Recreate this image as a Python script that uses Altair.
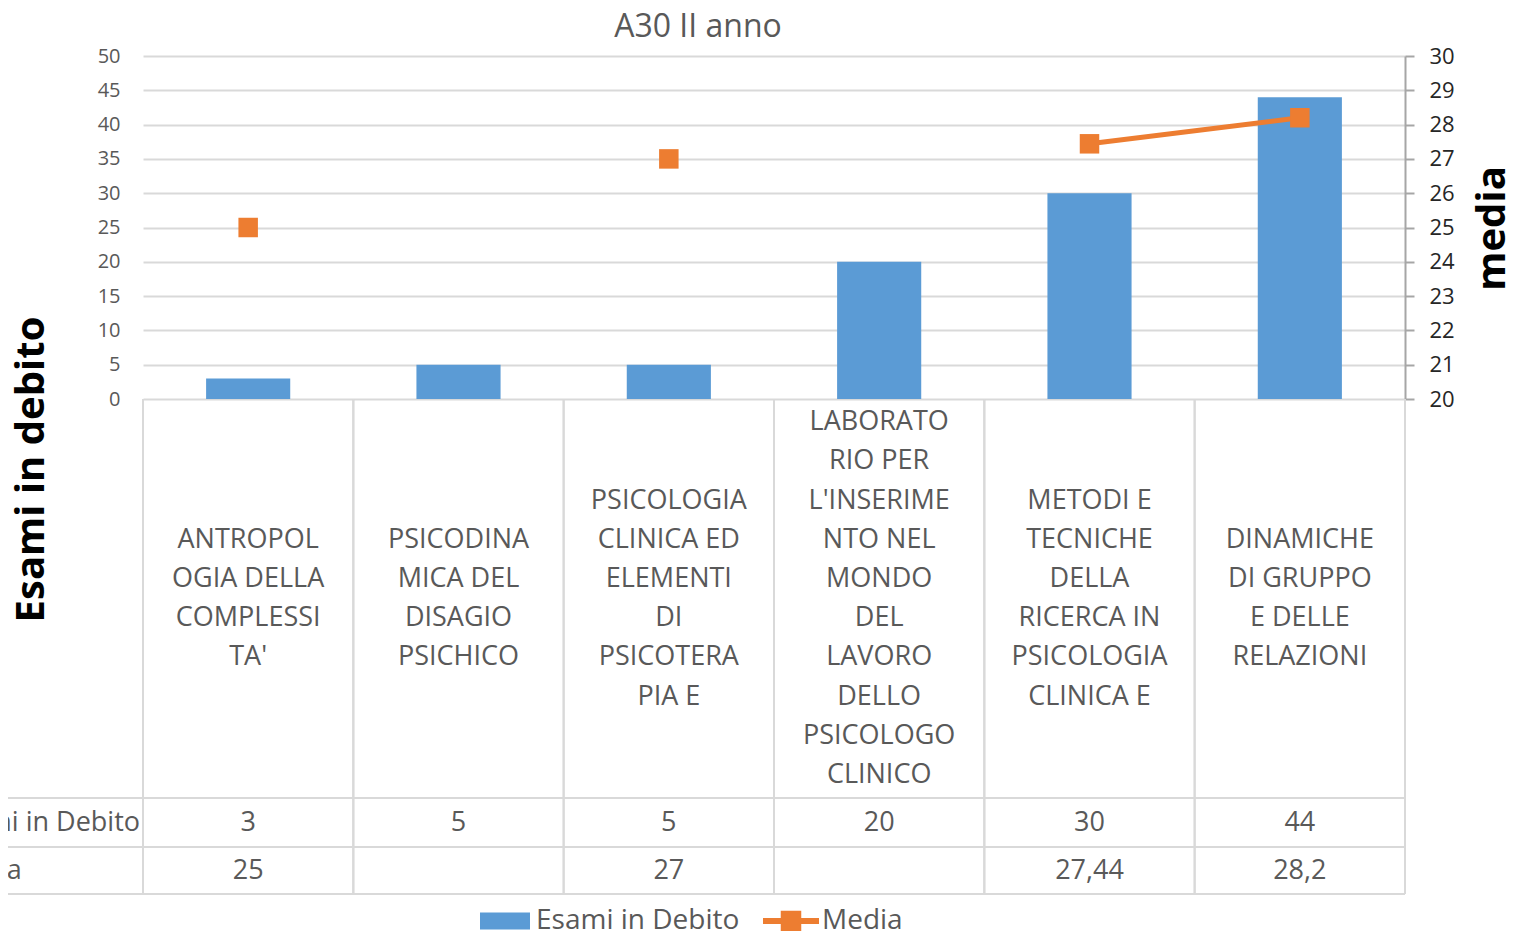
import altair as alt
import pandas as pd

# ---------------- data ----------------
categories = [
    "ANTROPOLOGIA DELLA COMPLESSITA'",
    "PSICODINAMICA DEL DISAGIO PSICHICO",
    "PSICOLOGIA CLINICA ED ELEMENTI DI PSICOTERAPIA E",
    "LABORATORIO PER L'INSERIMENTO NEL MONDO DEL LAVORO DELLO PSICOLOGO CLINICO",
    "METODI E TECNICHE DELLA RICERCA IN PSICOLOGIA CLINICA E",
    "DINAMICHE DI GRUPPO E DELLE RELAZIONI",
]
labels = [
    "ANTROPOL\nOGIA DELLA\nCOMPLESSI\nTA'",
    "PSICODINA\nMICA DEL\nDISAGIO\nPSICHICO",
    "PSICOLOGIA\nCLINICA ED\nELEMENTI\nDI\nPSICOTERA\nPIA E",
    "LABORATO\nRIO PER\nL'INSERIME\nNTO NEL\nMONDO\nDEL\nLAVORO\nDELLO\nPSICOLOGO\nCLINICO",
    "METODI E\nTECNICHE\nDELLA\nRICERCA IN\nPSICOLOGIA\nCLINICA E",
    "DINAMICHE\nDI GRUPPO\nE DELLE\nRELAZIONI",
]
esami = [3, 5, 5, 20, 30, 44]
media = [25, None, 27, None, 27.44, 28.2]
series = ["Esami in Debito", "Media"]
left_ticks = list(range(0, 55, 5))
right_ticks = list(range(20, 31))
title_text = "A30 II anno"
left_title = "Esami in debito"
right_title = "media"


def fmt(v):
    return "" if v is None else f"{v:g}".replace(".", ",")


df = pd.DataFrame({
    "cat": categories,
    "esami": esami,
    "media": media,
    "esami_txt": [str(v) for v in esami],
    "media_txt": [fmt(v) for v in media],
})

# one row per wrapped line of each category label, with its offset from
# the centre of the label block (in lines)
line_rows = []
for c, lab in zip(categories, labels):
    parts = lab.split("\n")
    for i, t in enumerate(parts):
        line_rows.append({"cat": c, "txt": t, "pos": i - (len(parts) - 1) / 2})
lines_df = pd.DataFrame(line_rows)
max_lines = max(len(l.split("\n")) for l in labels)

# ---------------- style ----------------
BLUE = "#5B9BD5"
ORANGE = "#ED7D31"
GRID = "#D9D9D9"
TXT = "#595959"
FONT = "Open Sans"
W, H = 1262, 343
ROW1 = 742   # bottom of the category-label row (below plot top)
ROW2 = 791   # bottom of the "Esami in Debito" row
ROW3 = 838   # bottom of the "Media" row
LH = 39.2
HEAD_X = -199
CAT_FS = 27
half = (max_lines - 1) / 2
mid = (H + ROW1) / 2

one = alt.InlineData(values=[{"k": 0}])
x_enc = alt.X("cat:N", sort=categories,
              scale=alt.Scale(paddingInner=0, paddingOuter=0), axis=None)
base = alt.Chart(df)

bars = base.mark_bar(color=BLUE, width=alt.RelativeBandSize(0.4)).encode(
    x=x_enc,
    y=alt.Y("esami:Q", scale=alt.Scale(domain=[0, 50], nice=False),
            axis=alt.Axis(orient="left", values=left_ticks, grid=True,
                          gridColor=GRID, gridWidth=2, domain=False, ticks=False,
                          labelPadding=23, labelFontSize=20, labelColor=TXT,
                          labelFont=FONT, labelOverlap=False,
                          title=left_title, titleFont=FONT,
                          titleFontSize=40, titleFontWeight="bold",
                          titleColor="#000000", titleAngle=270,
                          titleAlign="center", titleBaseline="middle",
                          titleX=-112, titleY=413)),
)

media_axis = alt.Axis(orient="right", values=right_ticks, grid=False,
                      domain=True, domainColor="#A6A6A6", domainWidth=2,
                      ticks=True, tickColor="#A6A6A6", tickWidth=2,
                      tickSize=9, labelPadding=15, labelFontSize=22,
                      labelColor="#262626", labelFont=FONT,
                      labelOverlap=False, labelBound=False,
                      title=right_title, titleFont=FONT,
                      titleFontSize=40, titleFontWeight="bold",
                      titleColor="#000000", titleAngle=270,
                      titleAlign="center", titleBaseline="middle",
                      titleX=87, titleY=172)
y_media = alt.Y("media:Q", scale=alt.Scale(domain=[20, 30], nice=False),
                axis=media_axis)
line = base.mark_line(color=ORANGE, strokeWidth=5).encode(x=x_enc, y=y_media)
points = base.mark_square(color=ORANGE, size=380, opacity=1).encode(
    x=x_enc, y=y_media)
media_layer = alt.layer(line, points)

# ---------------- data table ----------------
vrule_l = base.mark_rule(color=GRID, strokeWidth=2).encode(
    x=alt.X("cat:N", sort=categories, bandPosition=0, axis=None),
    y=alt.value(H), y2=alt.value(ROW3))
vrule_r = base.mark_rule(color=GRID, strokeWidth=2).encode(
    x=alt.X("cat:N", sort=categories, bandPosition=1, axis=None),
    y=alt.value(H), y2=alt.value(ROW3))
hrules = [
    alt.Chart(one).mark_rule(color=GRID, strokeWidth=2).encode(
        x=alt.value(-200), x2=alt.value(W), y=alt.value(r))
    for r in (ROW1, ROW2, ROW3)
]
cat_text = alt.Chart(lines_df).mark_text(
    fontSize=CAT_FS, font=FONT, color=TXT, baseline="middle").encode(
    x=x_enc,
    y=alt.Y("pos:Q", axis=None,
            scale=alt.Scale(domain=[-half, half],
                            range=[mid - half * LH, mid + half * LH])),
    text="txt:N")
esami_text = base.mark_text(fontSize=CAT_FS, font=FONT, color=TXT,
                            baseline="middle").encode(
    x=x_enc, y=alt.value((ROW1 + ROW2) / 2), text="esami_txt:N")
media_text = base.mark_text(fontSize=CAT_FS, font=FONT, color=TXT,
                            baseline="middle").encode(
    x=x_enc, y=alt.value((ROW2 + ROW3) / 2), text="media_txt:N")
head1 = alt.Chart(one).mark_text(text=series[0], fontSize=CAT_FS, font=FONT,
                                 color=TXT, align="left", baseline="middle").encode(
    x=alt.value(HEAD_X), y=alt.value((ROW1 + ROW2) / 2))
head2 = alt.Chart(one).mark_text(text=series[1], fontSize=CAT_FS, font=FONT,
                                 color=TXT, align="left", baseline="middle").encode(
    x=alt.value(HEAD_X), y=alt.value((ROW2 + ROW3) / 2))

# ---------------- legend ----------------
bar_sym = "M-1,-0.34H1V0.34H-1Z"
line_sym = "M-1.12,-0.12H1.12V0.12H-1.12Z M-0.41,-0.41H0.41V0.41H-0.41Z"
leg = alt.Chart(pd.DataFrame({"series": series})).mark_point(
    filled=True, clip=True, opacity=1).encode(
    x=alt.value(-300), y=alt.value(-300),
    color=alt.Color("series:N",
                    scale=alt.Scale(domain=series, range=[BLUE, ORANGE]),
                    legend=alt.Legend(orient="none", legendX=337, legendY=840,
                                      direction="horizontal", title=None,
                                      symbolSize=2500, symbolOpacity=1,
                                      symbolStrokeWidth=0, labelFontSize=28,
                                      labelFont=FONT, labelColor=TXT,
                                      labelLimit=500,
                                      labelOffset=6, columnPadding=22,
                                      padding=0)),
    shape=alt.Shape("series:N",
                    scale=alt.Scale(domain=series, range=[bar_sym, line_sym])),
)

chart = alt.layer(
    bars, media_layer, vrule_l, vrule_r, *hrules,
    cat_text, esami_text, media_text, head1, head2, leg,
).resolve_scale(y="independent").properties(
    width=W, height=H,
    title=alt.TitleParams(title_text, fontSize=32, font=FONT, color=TXT,
                          fontWeight="normal", anchor="middle", dx=-76,
                          offset=1),
    padding={"left": 135, "top": 48, "right": 104, "bottom": 532},
    autosize=alt.AutoSizeParams(type="none"),
).configure_view(strokeWidth=0)

chart.save("out.html", embed_options={"renderer": "svg", "actions": False})
